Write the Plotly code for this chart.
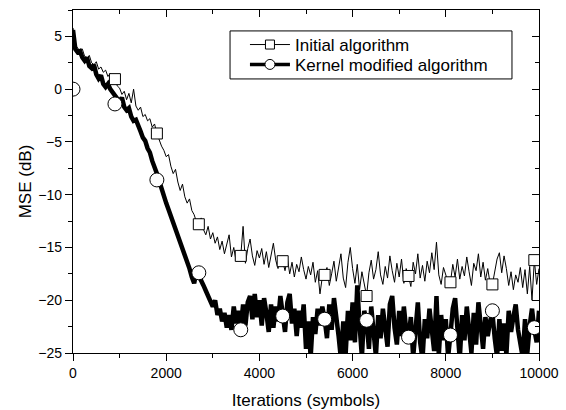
import plotly.graph_objects as go

STEP = 50
iters = list(range(0, 10001, STEP))

initial_mse = [
    5.8, 4.2, 3.9, 3.6, 3.8, 3.1, 2.9, 3.2, 2.5, 2.3, 2.6, 1.9, 2.1, 1.6, 1.8, 1.2, 1.5, 0.8, 1.0, 0.3,
    0.1, -0.5, -0.2, -1.0, -0.4, -1.3, 0.0, -1.6, -2.0, -1.7, -2.6, -2.4, -3.0, -2.8, -3.6, -3.3, -4.2, -4.9, -5.4, -5.8,
    -6.4, -6.2, -7.3, -8.0, -7.6, -8.8, -9.6, -9.0, -10.2, -10.8, -10.4, -11.5, -11.9, -12.6, -12.8, -12.2, -13.3, -13.8, -13.0, -14.2,
    -13.6, -14.6, -14.0, -15.2, -14.4, -15.6, -14.8, -13.8, -15.9, -15.0, -16.3, -15.4, -15.8, -13.0, -16.5, -15.1, -14.2, -15.8, -16.7, -15.3,
    -16.0, -15.1, -16.6, -15.4, -16.9, -15.8, -14.6, -16.2, -17.0, -15.9, -16.3, -17.2, -16.0, -17.5, -16.4, -17.8, -16.6, -17.3, -15.9, -17.1,
    -18.0, -16.8, -17.6, -16.4, -18.3, -17.2, -19.4, -17.8, -17.6, -16.9, -18.6, -17.5, -16.3, -18.2, -17.0, -15.6, -17.9, -18.8, -16.4, -15.0,
    -17.0, -18.4, -16.6, -19.0, -17.3, -18.6, -19.6, -17.4, -16.2, -18.0, -17.1, -15.4, -17.6, -18.5, -16.8, -17.9, -15.8, -17.2, -18.3, -16.5,
    -17.8, -16.1, -18.4, -17.0, -17.7, -18.7, -16.4, -17.5, -15.6, -17.9, -16.7, -18.2, -16.3, -17.4, -15.5, -17.1, -14.5, -17.6, -18.5, -16.9,
    -17.5, -18.3, -18.3, -16.6, -17.8, -16.1, -18.0, -16.8, -17.7, -15.9, -17.3, -18.6, -16.5, -17.2, -15.6, -17.8, -16.4, -18.1, -17.0, -18.4,
    -18.5, -17.2, -16.1, -15.5, -17.4, -15.8, -17.0, -18.6, -17.3, -19.0, -17.6, -18.3, -16.9, -18.8, -17.1, -19.4, -16.8, -20.0, -16.2, -18.5,
    -17.0,
]

kernel_mse = [
    5.6, 3.8, 3.5, 3.6, 3.0, 2.7, 3.0, 2.2, 2.0, 2.3, 1.4, 1.0, 1.3, 0.5, 0.2, 0.5, 0.0, -0.3, -0.5, -0.9,
    -1.2, -0.8, -1.7, -2.0, -1.8, -2.6, -3.0, -2.9, -3.6, -4.0, -4.6, -4.9, -5.6, -6.0, -6.8, -7.3, -8.0, -8.7, -9.5, -10.0,
    -10.8, -11.4, -12.0, -12.6, -13.2, -13.8, -14.6, -15.0, -15.8, -16.3, -17.0, -17.8, -18.4, -17.2, -17.6, -18.0, -18.6, -19.1, -19.6, -20.2,
    -20.6, -20.0, -21.4, -20.8, -22.0, -21.2, -22.6, -21.4, -22.8, -20.6, -22.2, -21.0, -22.6, -20.4, -22.4, -20.2, -19.6, -21.8, -19.4, -21.6,
    -20.0, -22.4, -19.8, -21.2, -23.0, -20.4, -22.6, -20.6, -22.0, -19.6, -21.6, -23.0, -20.2, -19.4, -22.2, -20.8, -23.4, -21.0, -22.6, -20.4,
    -24.6, -22.0, -25.4, -21.6, -23.2, -20.8, -22.4, -20.6, -21.8, -23.6, -20.4, -22.8, -19.8, -21.4, -23.4, -25.6, -22.0, -25.2, -21.0, -23.8,
    -20.2, -24.0, -18.6, -22.4, -25.4, -21.0, -22.0, -24.6, -20.6, -23.0, -25.3, -21.4, -23.6, -20.8, -22.8, -24.4, -20.4, -19.6, -22.6, -24.2,
    -21.0, -23.4, -20.6, -22.8, -23.5, -21.6, -25.4, -22.0, -20.2, -24.0, -25.6, -21.8, -23.6, -20.8, -22.6, -24.8, -19.6, -25.2, -21.4, -23.8,
    -21.8, -25.4, -23.2, -20.8, -19.8, -23.0, -25.6, -21.4, -23.8, -20.6, -22.4, -25.0, -21.2, -24.2, -20.2, -22.6, -24.6, -21.6, -23.4, -22.0,
    -21.2, -23.6, -25.4, -21.8, -24.8, -22.2, -25.2, -21.0, -23.0, -21.6, -20.4, -22.8, -24.0, -25.4, -21.8, -25.0, -22.4, -20.8, -22.8, -24.0,
    -21.0,
]

square_x = [900, 1800, 2700, 3600, 4500, 5400, 6300, 7200, 8100, 9000, 9900]
square_y = [0.95, -4.2, -12.8, -15.8, -16.3, -17.6, -19.6, -17.7, -18.3, -18.5, -16.2]

circle_x = [0, 900, 1800, 2700, 3600, 4500, 5400, 6300, 7200, 8100, 9000, 9900]
circle_y = [0.0, -1.4, -8.6, -17.4, -22.8, -21.5, -21.8, -21.9, -23.5, -23.3, -21.0, -22.6]

names = ["Initial algorithm", "Kernel modified algorithm"]
x_ticks = [0, 2000, 4000, 6000, 8000, 10000]
y_ticks = [-25, -20, -15, -10, -5, 0, 5]

FONT = "Liberation Sans, Arial, sans-serif"
BLACK = "black"
THICK = 4.5

fig = go.Figure()

# noisy curves
fig.add_trace(go.Scatter(x=iters, y=kernel_mse, mode="lines",
                         line=dict(color=BLACK, width=THICK), showlegend=False, hoverinfo="skip"))
fig.add_trace(go.Scatter(x=iters, y=initial_mse, mode="lines",
                         line=dict(color=BLACK, width=1), showlegend=False, hoverinfo="skip"))

# markers
fig.add_trace(go.Scatter(x=square_x, y=square_y, mode="markers",
                         marker=dict(symbol="square", size=11, color="white",
                                     line=dict(color=BLACK, width=1)),
                         showlegend=False))
fig.add_trace(go.Scatter(x=circle_x, y=circle_y, mode="markers",
                         marker=dict(symbol="circle", size=14, color="white",
                                     line=dict(color=BLACK, width=1)),
                         showlegend=False))

# legend entries (one legend per row for tight spacing)
fig.add_trace(go.Scatter(x=[None], y=[None], mode="lines+markers", name=names[0],
                         line=dict(color=BLACK, width=1), legend="legend",
                         marker=dict(symbol="square", size=9, color="white",
                                     line=dict(color=BLACK, width=1))))
fig.add_trace(go.Scatter(x=[None], y=[None], mode="lines+markers", name=names[1],
                         line=dict(color=BLACK, width=3.5), legend="legend2",
                         marker=dict(symbol="circle", size=10, color="white",
                                     line=dict(color=BLACK, width=1))))

# dummy trace for mirrored top/right axes
fig.add_trace(go.Scatter(x=[None], y=[None], xaxis="x2", yaxis="y2",
                         showlegend=False, hoverinfo="skip"))

XR = [0, 10000]
YR = [-25, 7.5]

leg_common = dict(xanchor="left", yanchor="middle", borderwidth=0,
                  bgcolor="rgba(0,0,0,0)", font=dict(size=17, family=FONT), itemwidth=40)

fig.update_layout(
    width=566, height=410,
    margin=dict(l=73, r=27, t=10, b=57, autoexpand=False),
    paper_bgcolor="white", plot_bgcolor="white",
    font=dict(family=FONT, color=BLACK, size=14),
    showlegend=True,
    legend=dict(x=0.369, y=0.898, **leg_common),
    legend2=dict(x=0.369, y=0.840, **leg_common),
    shapes=[dict(type="rect", xref="paper", yref="paper", x0=0.337, x1=0.942,
                 y0=0.799, y1=0.939, line=dict(color=BLACK, width=1),
                 fillcolor="white", layer="above")],
    xaxis=dict(range=XR, tickvals=x_ticks, tickformat="d", ticks="outside", ticklen=7, tickwidth=1.3,
               tickcolor=BLACK, showline=True, linecolor=BLACK, linewidth=1.3,
               showgrid=False, zeroline=False, automargin=False,
               minor=dict(dtick=1000, ticks="outside", ticklen=4, tickwidth=1.3, tickcolor=BLACK),
               tickfont=dict(size=14),
               title=dict(text="Iterations (symbols)", font=dict(size=17), standoff=16)),
    yaxis=dict(range=YR, tickvals=y_ticks, ticks="outside", ticklen=7, tickwidth=1.3,
               tickcolor=BLACK, showline=True, linecolor=BLACK, linewidth=1.3,
               showgrid=False, zeroline=False, automargin=False,
               minor=dict(dtick=2.5, tick0=0, ticks="outside", ticklen=4, tickwidth=1.3, tickcolor=BLACK),
               tickfont=dict(size=14),
               title=dict(text="MSE (dB)", font=dict(size=17), standoff=2)),
    xaxis2=dict(range=XR, overlaying="x", side="top", anchor="y2", tickvals=x_ticks,
                ticks="inside", ticklen=7, tickwidth=1.3, tickcolor=BLACK,
                showticklabels=False, showline=True, linecolor=BLACK, linewidth=1.3,
                showgrid=False, zeroline=False, automargin=False,
                minor=dict(dtick=1000, ticks="inside", ticklen=4, tickwidth=1.3, tickcolor=BLACK)),
    yaxis2=dict(range=YR, overlaying="y", side="right", anchor="x2", tickvals=y_ticks,
                ticks="inside", ticklen=7, tickwidth=1.3, tickcolor=BLACK,
                showticklabels=False, showline=True, linecolor=BLACK, linewidth=1.3,
                showgrid=False, zeroline=False, automargin=False,
                minor=dict(dtick=2.5, tick0=0, ticks="inside", ticklen=4, tickwidth=1.3, tickcolor=BLACK)),
)

fig.write_html("out.html")
